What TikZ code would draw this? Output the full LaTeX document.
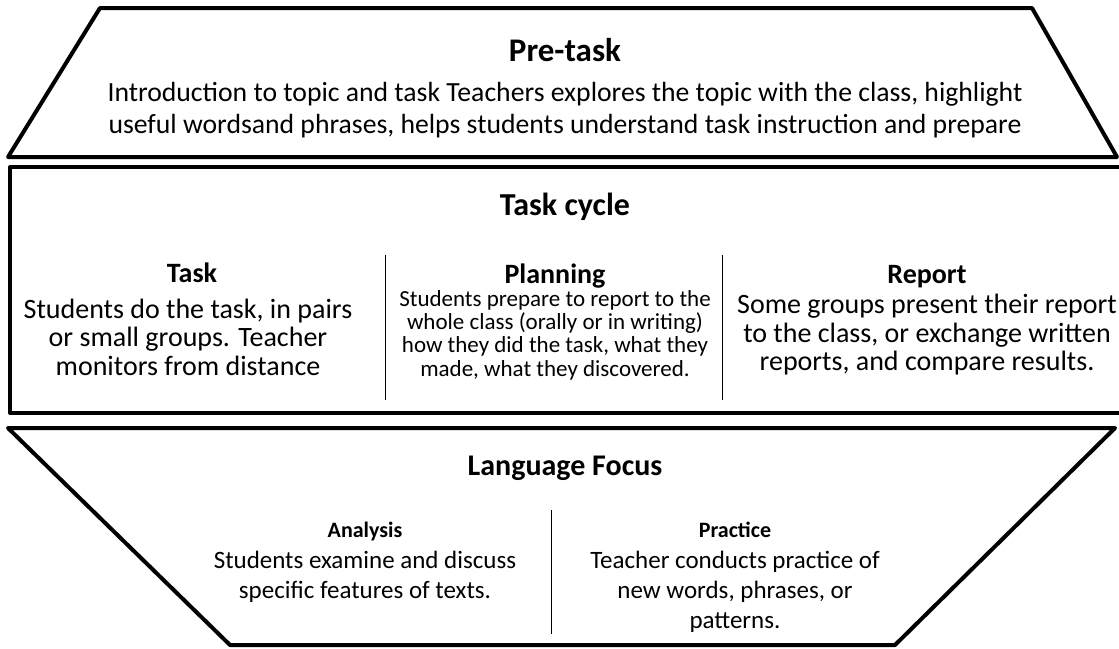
\documentclass[tikz,border=0pt]{standalone}
\usepackage{fontspec}
\setmainfont{Carlito}
\begin{document}
\begin{tikzpicture}[x=1pt,y=-1pt,
  frame/.style={line width=4pt, line join=round},
  divider/.style={line width=1pt},
  ttl/.style={font=\fontsize{#1}{#1}\selectfont\bfseries, inner sep=0pt, anchor=base},
  hdr/.style={font=\fontsize{#1}{#1}\selectfont\bfseries, inner sep=0pt, anchor=base},
  body/.style={font=\fontsize{27.7}{32.5}\selectfont, align=center, inner sep=0pt},
  mid/.style={font=\fontsize{28}{28.5}\selectfont, align=center, inner sep=0pt},
  lang/.style={font=\fontsize{25}{30}\selectfont, align=center, inner sep=0pt},
  small/.style={font=\fontsize{23}{23.3}\selectfont, align=center, inner sep=0pt}]
\useasboundingbox (0,0) rectangle (1119,648);
% shapes
\draw[frame] (100,8) -- (1032,8) -- (1117,157) -- (8,157) -- cycle;
\draw[frame] (1124,167) -- (10,167) -- (10,413) -- (1124,413);
\draw[frame] (8,428) -- (1115,428) -- (895,645) -- (230,645) -- cycle;
% dividers
\coordinate (d1a) at (385,255); \coordinate (d1b) at (385,400);
\coordinate (d2a) at (722,255); \coordinate (d2b) at (722,400);
\coordinate (d3a) at (551,510); \coordinate (d3b) at (551,634);
\draw[divider] (d1a) -- (d1b);
\draw[divider] (d2a) -- (d2b);
\draw[divider] (d3a) -- (d3b);
% pre-task
\node[ttl=33] (pt) at (565,61) {Pre-task};
\node[body] (ptb) at (565,110) {Introduction to topic and task Teachers explores the topic with the class, highlight\\useful wordsand phrases, helps students understand task instruction and prepare};
% task cycle
\node[ttl=32] (tc) at (565,215) {Task cycle};
\node[hdr=28] (th) at (192,282) {Task};
\node[mid] (tb) at (188,337) {Students do the task, in pairs\\or small groups. Teacher\\monitors from distance};
\node[hdr=28] (ph) at (555,283) {Planning};
\node[small] (pb) at (555,335) {Students prepare to report to the\\whole class (orally or in writing)\\how they did the task, what they\\made, what they discovered.};
\node[hdr=28] (rh) at (927,283) {Report};
\node[mid] (rb) at (927,335) {Some groups present their report\\to the class, or exchange written\\reports, and compare results.};
% language focus
\node[ttl=30] (lf) at (565,475) {Language Focus};
\node[hdr=22] (ah) at (365,537) {Analysis};
\node[lang] (ab) at (365,577) {Students examine and discuss\\specific features of texts.};
\node[hdr=22] (prh) at (735,537) {Practice};
\node[lang] (prb) at (735,592) {Teacher conducts practice of\\new words, phrases, or\\patterns.};
\end{tikzpicture}
\end{document}
